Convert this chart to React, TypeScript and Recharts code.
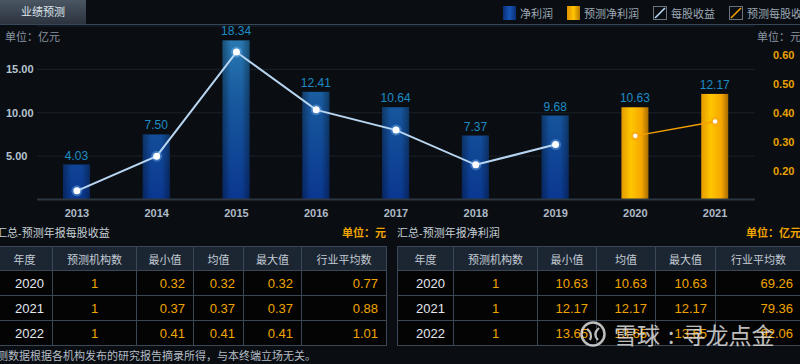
import React from 'react';
import {
  ComposedChart,
  Bar,
  Line,
  XAxis,
  YAxis,
  CartesianGrid,
  LabelList,
} from 'recharts';

const years = ['2013', '2014', '2015', '2016', '2017', '2018', '2019', '2020', '2021'];
const netProfit = [4.03, 7.5, 18.34, 12.41, 10.64, 7.37, 9.68, 10.63, 12.17];
const isForecast = [false, false, false, false, false, false, false, true, true];
const epsActual = [0.13, 0.25, 0.61, 0.41, 0.34, 0.22, 0.29, null, null];
const epsForecast = [null, null, null, null, null, null, null, 0.32, 0.37];

const leftTicks = [5, 10, 15];
const rightTicks = [0.2, 0.3, 0.4, 0.5, 0.6];

const tableYears = ['2020', '2021', '2022'];
const tableHeaders = ['年度', '预测机构数', '最小值', '均值', '最大值', '行业平均数'];
const epsCount = [1, 1, 1];
const epsMin = [0.32, 0.37, 0.41];
const epsMean = [0.32, 0.37, 0.41];
const epsMax = [0.32, 0.37, 0.41];
const epsIndustry = [0.77, 0.88, 1.01];
const profitCount = [1, 1, 1];
const profitMin = [10.63, 12.17, 13.65];
const profitMean = [10.63, 12.17, 13.65];
const profitMax = [10.63, 12.17, 13.65];
const profitIndustry = [69.26, 79.36, 92.06];

const chartData = years.map((y, i) => ({
  year: y,
  profit: netProfit[i],
  forecast: isForecast[i],
  eps: epsActual[i],
  epsF: epsForecast[i],
}));

const FONT = '"Liberation Sans", Arial, "Noto Sans CJK SC", sans-serif';
const BG = '#0a0e13';
const ORANGE = '#f0a400';

function BarShape(props: any) {
  const { x, y, width, height, payload } = props;
  if (height == null || height <= 0) return <g />;
  if (payload.forecast) {
    return <rect x={x} y={y} width={width} height={height} fill="url(#orangeH)" />;
  }
  return (
    <g>
      <rect x={x} y={y} width={width} height={height} fill="url(#blueV)" />
      <rect x={x} y={y} width={width} height={height} fill="url(#edgeShade)" />
    </g>
  );
}

function ActualDot(props: any) {
  const { cx, cy, index, value } = props;
  if (value == null || cy == null) return <g key={`a${index}`} />;
  return (
    <g key={`a${index}`}>
      <circle cx={cx} cy={cy} r={5.5} fill="rgba(140,200,255,0.35)" />
      <circle cx={cx} cy={cy} r={3.5} fill="#ffffff" />
    </g>
  );
}

function ForecastDot(props: any) {
  const { cx, cy, index, value } = props;
  if (value == null || cy == null) return <g key={`f${index}`} />;
  return (
    <g key={`f${index}`}>
      <circle cx={cx} cy={cy} r={5} fill="rgba(255,160,0,0.35)" />
      <circle cx={cx} cy={cy} r={2.8} fill="#ffffff" stroke="#f5a000" strokeWidth={1} />
    </g>
  );
}

const LeftTick = (props: any) => (
  <text x={6} y={props.y} dy={4} fill="#b6c3d0" fontSize={11} fontWeight="bold" fontFamily={FONT}>
    {Number(props.payload.value).toFixed(2)}
  </text>
);

const RightTick = (props: any) => (
  <text x={773} y={props.y} dy={4} fill="#e8a200" fontSize={11} fontWeight="bold" fontFamily={FONT}>
    {Number(props.payload.value).toFixed(2)}
  </text>
);

const XTick = (props: any) => (
  <text x={props.x} y={props.y} dy={9} textAnchor="middle" fill="#aebac6" fontSize={11} fontWeight="bold" fontFamily={FONT}>
    {props.payload.value}
  </text>
);

function LegendItem({ kind, label, color }: { kind: 'bar' | 'line'; label: string; color: string }) {
  return (
    <div style={{ display: 'flex', alignItems: 'center', marginLeft: 14 }}>
      {kind === 'bar' ? (
        <div style={{ width: 13, height: 14, background: color }} />
      ) : (
        <svg width={14} height={14}>
          <rect x={0.5} y={0.5} width={13} height={13} fill="none" stroke="#6a747e" />
          <line x1={2} y1={12} x2={12} y2={2} stroke={color} strokeWidth={1.6} />
        </svg>
      )}
      <span style={{ marginLeft: 4, color: '#9ea9b4', fontSize: 11, whiteSpace: 'nowrap' }}>{label}</span>
    </div>
  );
}

function DataTable({
  left,
  widths,
  title,
  unit,
  counts,
  mins,
  means,
  maxs,
  industry,
}: {
  left: number;
  widths: number[];
  title: string;
  unit: string;
  counts: number[];
  mins: number[];
  means: number[];
  maxs: number[];
  industry: number[];
}) {
  const total = widths.reduce((a, b) => a + b, 0);
  const cell: React.CSSProperties = {
    border: '1px solid #3a4757',
    padding: '0 8px',
    fontSize: 13,
    fontFamily: FONT,
  };
  return (
    <div style={{ position: 'absolute', left, top: 222, width: total }}>
      <div style={{ position: 'relative', height: 24 }}>
        <span style={{ position: 'absolute', left: 0, top: 2, color: '#c6ced6', fontSize: 11 }}>{title}</span>
        <span style={{ position: 'absolute', right: 0, top: 2, color: ORANGE, fontSize: 11, fontWeight: 'bold' }}>{unit}</span>
      </div>
      <table style={{ borderCollapse: 'collapse', tableLayout: 'fixed', width: total }}>
        <colgroup>
          {widths.map((w, i) => (
            <col key={i} style={{ width: w }} />
          ))}
        </colgroup>
        <tbody>
          <tr style={{ height: 24, background: '#1c2633' }}>
            {tableHeaders.map((h) => (
              <td key={h} style={{ ...cell, textAlign: 'center', color: '#c3cbd3', fontSize: 11 }}>
                {h}
              </td>
            ))}
          </tr>
          {tableYears.map((y, i) => (
            <tr key={y} style={{ height: 25, background: '#040404' }}>
              <td style={{ ...cell, textAlign: 'right', color: '#e2e8ee' }}>{y}</td>
              <td style={{ ...cell, textAlign: 'center', color: ORANGE }}>{counts[i]}</td>
              <td style={{ ...cell, textAlign: 'right', color: ORANGE }}>{mins[i].toFixed(2)}</td>
              <td style={{ ...cell, textAlign: 'right', color: ORANGE }}>{means[i].toFixed(2)}</td>
              <td style={{ ...cell, textAlign: 'right', color: ORANGE }}>{maxs[i].toFixed(2)}</td>
              <td style={{ ...cell, textAlign: 'right', color: ORANGE }}>{industry[i].toFixed(2)}</td>
            </tr>
          ))}
        </tbody>
      </table>
    </div>
  );
}

export default function App() {
  return (
    <div
      style={{
        position: 'absolute',
        left: 0,
        top: 0,
        width: 800,
        height: 364,
        background: BG,
        overflow: 'hidden',
        fontFamily: FONT,
      }}
    >
      {/* header */}
      <div
        style={{
          position: 'absolute',
          left: 0,
          top: 0,
          width: 86,
          height: 24,
          background: 'linear-gradient(#4b5663, #2b333e)',
          color: '#dde4ec',
          fontSize: 11,
          lineHeight: '24px',
          textAlign: 'center',
        }}
      >
        业绩预测
      </div>
      <div style={{ position: 'absolute', left: 0, top: 24, width: 800, height: 1, background: '#35495b' }} />
      <div style={{ position: 'absolute', left: 489, top: 5, display: 'flex' }}>
        <LegendItem kind="bar" label="净利润" color="linear-gradient(90deg,#0b2f78,#1656b4,#0b2f78)" />
        <LegendItem kind="bar" label="预测净利润" color="linear-gradient(90deg,#e09000,#ffc400,#b87800)" />
        <LegendItem kind="line" label="每股收益" color="#b8d8f4" />
        <LegendItem kind="line" label="预测每股收益" color="#f5a000" />
      </div>
      <div style={{ position: 'absolute', left: 5, top: 28, color: '#8a96a2', fontSize: 11 }}>单位：亿元</div>
      <div style={{ position: 'absolute', left: 757, top: 28, color: '#8a96a2', fontSize: 11, whiteSpace: 'nowrap' }}>单位：元</div>

      <div style={{ position: 'absolute', left: 0, top: 0 }}>
        <ComposedChart width={800} height={230} data={chartData} margin={{ top: 26, right: 0, bottom: 0, left: 0 }}>
          <defs>
            <linearGradient id="blueV" x1="0" y1="26" x2="0" y2="200" gradientUnits="userSpaceOnUse">
              <stop offset="0%" stopColor="#2c80b6" />
              <stop offset="45%" stopColor="#17579c" />
              <stop offset="100%" stopColor="#0a3790" />
            </linearGradient>
            <linearGradient id="edgeShade" x1="0" y1="0" x2="1" y2="0">
              <stop offset="0%" stopColor="#000" stopOpacity={0.35} />
              <stop offset="30%" stopColor="#000" stopOpacity={0} />
              <stop offset="70%" stopColor="#000" stopOpacity={0} />
              <stop offset="100%" stopColor="#000" stopOpacity={0.35} />
            </linearGradient>
            <linearGradient id="orangeH" x1="0" y1="0" x2="1" y2="0">
              <stop offset="0%" stopColor="#e49a00" />
              <stop offset="35%" stopColor="#ffc600" />
              <stop offset="75%" stopColor="#f5a600" />
              <stop offset="100%" stopColor="#a86c00" />
            </linearGradient>
          </defs>
          <CartesianGrid vertical={false} stroke="#1a2129" yAxisId="left" />
          <XAxis
            dataKey="year"
            height={30.5}
            axisLine={{ stroke: '#2c3742', strokeWidth: 2 }}
            tickLine={false}
            tick={<XTick />}
            interval={0}
          />
          <YAxis
            yAxisId="left"
            width={37}
            domain={[0, 20]}
            ticks={leftTicks}
            axisLine={false}
            tickLine={false}
            tick={<LeftTick />}
          />
          <YAxis
            yAxisId="right"
            orientation="right"
            width={45}
            domain={[0.1, 0.7]}
            ticks={rightTicks}
            axisLine={false}
            tickLine={false}
            tick={<RightTick />}
          />
          <Bar yAxisId="left" dataKey="profit" barSize={27} shape={<BarShape />} isAnimationActive={false}>
            <LabelList
              dataKey="profit"
              position="top"
              offset={5}
              fill="#1d8cc4"
              fontSize={12}
              fontFamily={FONT}
              formatter={(v: any) => Number(v).toFixed(2)}
            />
          </Bar>
          <Line
            yAxisId="right"
            dataKey="eps"
            stroke="#b8d6f2"
            strokeWidth={2}
            dot={<ActualDot />}
            activeDot={false}
            isAnimationActive={false}
          />
          <Line
            yAxisId="right"
            dataKey="epsF"
            stroke="#f5a000"
            strokeWidth={1.5}
            dot={<ForecastDot />}
            activeDot={false}
            isAnimationActive={false}
          />
        </ComposedChart>
      </div>

      <DataTable
        left={-4}
        widths={[56, 84, 57, 50, 58, 85]}
        title="汇总-预测年报每股收益"
        unit="单位：元"
        counts={epsCount}
        mins={epsMin}
        means={epsMean}
        maxs={epsMax}
        industry={epsIndustry}
      />
      <DataTable
        left={397}
        widths={[56, 84, 59, 59, 60, 86]}
        title="汇总-预测年报净利润"
        unit="单位：亿元"
        counts={profitCount}
        mins={profitMin}
        means={profitMean}
        maxs={profitMax}
        industry={profitIndustry}
      />

      <div style={{ position: 'absolute', left: -14, top: 347, color: '#b4bcc4', fontSize: 11, whiteSpace: 'nowrap' }}>
        预测数据根据各机构发布的研究报告摘录所得，与本终端立场无关。
      </div>

      {/* watermark */}
      <div
        style={{
          position: 'absolute',
          left: 580,
          top: 320,
          display: 'flex',
          alignItems: 'center',
          opacity: 0.82,
          color: '#e6e6e6',
          fontSize: 23,
          whiteSpace: 'nowrap',
          fontFamily: '"Noto Sans CJK SC", sans-serif',
          lineHeight: '28px',
        }}
      >
        <svg width={26} height={28}>
          <circle cx={13} cy={14} r={11.5} fill="none" stroke="#e6e6e6" strokeWidth={2.5} />
          <path d="M7 9 Q13 13 10 20 M19 8 Q12 14 18 20" stroke="#e6e6e6" strokeWidth={2.2} fill="none" />
        </svg>
        <span style={{ marginLeft: 8 }}>雪球</span>
        <span style={{ marginLeft: 8 }}>:</span>
        <span style={{ marginLeft: 8 }}>寻龙点金</span>
      </div>
    </div>
  );
}
